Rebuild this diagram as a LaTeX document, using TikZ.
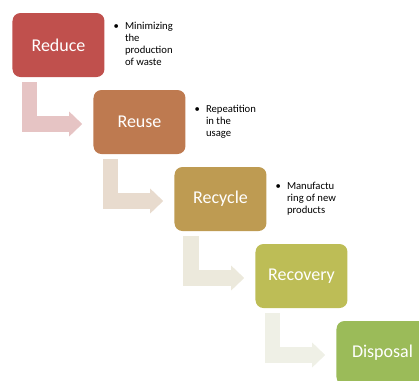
\documentclass[tikz,border=0pt]{standalone}
\usepackage{fontspec}
\setmainfont{Carlito}
\usepackage{tikz}
\usetikzlibrary{positioning,calc,arrows.meta}

\definecolor{cReduce}{RGB}{192,80,77}
\definecolor{cReuse}{RGB}{190,122,80}
\definecolor{cRecycle}{RGB}{190,155,82}
\definecolor{cRecovery}{RGB}{189,189,86}
\definecolor{cDisposal}{RGB}{155,187,89}
\definecolor{aReduce}{RGB}{230,196,196}
\definecolor{aReuse}{RGB}{232,219,206}
\definecolor{aRecycle}{RGB}{236,233,220}
\definecolor{aRecovery}{RGB}{239,240,230}

\begin{document}
\begin{tikzpicture}[
					x=0.75pt, y=-0.75pt, % 1 unit = 1 px of the slide
					stage/.style={
						rounded corners=6pt,
						minimum width=69pt,
						minimum height=48pt,
						text=white,
						font=\fontsize{13.5}{16}\selectfont,
						anchor=center
					},
					note/.style={             % bullet text beside a stage
						anchor=west,
						font=\fontsize{8}{9.2}\selectfont,
						inner sep=0pt
					},
					% bent block arrow between two stages
					flow/.style={
						-{Triangle[length=9.75pt, width=18pt]},
						line width=11.6pt,
						line join=miter
					}
					]
					\useasboundingbox (0,0) rectangle (419,380);
					\clip (0,0) rectangle (419,380);
					
					% --- stages ---
					\foreach \name [count=\i] in {Reduce, Reuse, Recycle, Recovery, Disposal} {
						\node[stage, fill=c\name] (s\i) at ({58.5+81*(\i-1)}, {45+77*(\i-1)}) {\name};
					}
					
					% --- bent arrows ---
					\foreach \i/\col [evaluate=\i as \nexti using int(\i+1)] in {1/aReduce, 2/aReuse, 3/aRecycle, 4/aRecovery} {
						\draw[flow, draw=\col] ([shift={(17,5)}]s\i.south west) |- ([shift={(-11,2)}]s\nexti.west);
					}
					
					% --- notes ---
					\node[note, right=6.5pt of s1] (n1) {\begin{tabular}{@{}l@{\hspace{4.5pt}}l@{}}
							\textbullet & Minimizing\\ & the\\ & production\\ & of waste
						\end{tabular}};
					\node[note, right=6.5pt of s2] (n2) {\begin{tabular}{@{}l@{\hspace{4.5pt}}l@{}}
							\textbullet & Repeatition\\ & in the\\ & usage
						\end{tabular}};
					\node[note, right=6.5pt of s3] (n3) {\begin{tabular}{@{}l@{\hspace{4.5pt}}l@{}}
							\textbullet & Manufactu\\ & ring of new\\ & products
						\end{tabular}};
					
				\end{tikzpicture}
\end{document}
